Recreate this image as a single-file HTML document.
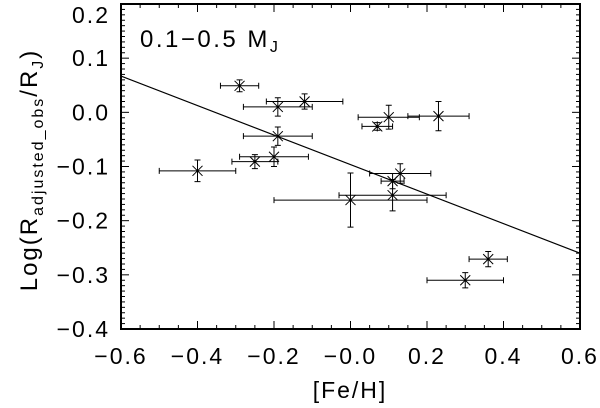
<!DOCTYPE html>
<html><head><meta charset="utf-8"><style>
html,body{margin:0;padding:0;background:#fff}
svg{display:block}
text{font-family:"Liberation Sans","DejaVu Sans",sans-serif;fill:#000}
</style></head><body>
<svg id="chart" width="600" height="408" viewBox="0 0 600 408" xmlns="http://www.w3.org/2000/svg">
<g id="plot"></g>
<text x="140" y="47" font-size="24" letter-spacing="2.5">0.1−0.5  M<tspan font-size="16" dy="5">J</tspan></text>
<text x="350" y="398" font-size="23" letter-spacing="2" text-anchor="middle">[Fe/H]</text>
<text transform="translate(37,170) rotate(-90)" font-size="24" letter-spacing="2" text-anchor="middle">Log(R<tspan font-size="16" dy="6">adjusted_obs</tspan><tspan dy="-6">/R</tspan><tspan font-size="16" dy="6">J</tspan><tspan dy="-6">)</tspan></text>
</svg>
<script>
const feh   = [-0.29,-0.19,-0.12,-0.19,-0.25,-0.20,-0.40,0.10,0.07,0.23,0.13,0.11,0.11,0.00,0.36,0.30];
const logR  = [0.049,0.010,0.020,-0.044,-0.091,-0.082,-0.108,-0.009,-0.026,-0.007,-0.113,-0.127,-0.153,-0.162,-0.271,-0.310];
const xErr  = [0.05,0.09,0.10,0.09,0.06,0.09,0.10,0.08,0.04,0.08,0.08,0.03,0.14,0.20,0.05,0.10];
const yErr  = [0.011,0.017,0.014,0.017,0.013,0.018,0.02,0.022,0.007,0.027,0.018,0.014,0.029,0.05,0.014,0.014];
const fitX  = [-0.6,0.6];
const fitY  = [0.067,-0.260];
const xTicks = [-0.6,-0.4,-0.2,0.0,0.2,0.4,0.6];
const xTickLabels = ["−0.6","−0.4","−0.2","−0.0","0.2","0.4","0.6"];
const yTicks = [0.2,0.1,0.0,-0.1,-0.2,-0.3,-0.4];
const yTickLabels = ["0.2","0.1","0.0","−0.1","−0.2","−0.3","−0.4"];

const L=121,R=580,T=4,B=329;
const xs=v=>L+(v+0.6)/1.2*(R-L);
const ys=v=>T+(0.2-v)/0.6*(B-T);
const NS="http://www.w3.org/2000/svg";
const g=document.getElementById('plot');
function mk(tag,attrs){const e=document.createElementNS(NS,tag);for(const k in attrs)e.setAttribute(k,attrs[k]);g.appendChild(e);return e;}
function ln(x1,y1,x2,y2,w){return mk('line',{x1,y1,x2,y2,stroke:'#000','stroke-width':w||1});}

const box=mk('rect',{x:L,y:T,width:R-L,height:B-T,fill:'none',stroke:'#000','stroke-width':2});



for(let i=0;i<=24;i++){
  const v=-0.6+i*0.05;
  const major=(i%4===0);
  const x=xs(v),len=major?8:4;
  const t1=ln(x,B,x,B-len);
  const t2=ln(x,T,x,T+len);
}
for(let i=0;i<=60;i++){
  const v=-0.4+i*0.01,y=ys(v),len=(i%10===0)?8:4;
  const t1=ln(L,y,L+len,y);
  const t2=ln(R,y,R-len,y);
}
xTicks.forEach((v,i)=>{
  const t=mk('text',{x:xs(v),y:364,'font-size':23,'letter-spacing':2,'text-anchor':'middle'});
  t.textContent=xTickLabels[i];
  
  
});
yTicks.forEach((v,i)=>{
  let y=ys(v)+8;
  if(i===0) y=23;
  const t=mk('text',{x:110,y:y,'font-size':23,'letter-spacing':2,'text-anchor':'end'});
  t.textContent=yTickLabels[i];
  
  
});

const fit=ln(xs(fitX[0]),ys(fitY[0]),xs(fitX[1]),ys(fitY[1]),1.2);



feh.forEach((v,i)=>{
  const cx=xs(v),cy=ys(logR[i]);
  const x1=xs(v-xErr[i]),x2=xs(v+xErr[i]),y1=ys(logR[i]+yErr[i]),y2=ys(logR[i]-yErr[i]);
  const p=mk('path',{d:`M${x1},${cy}H${x2}M${x1},${cy-3}V${cy+3}M${x2},${cy-3}V${cy+3}M${cx},${y1}V${y2}M${cx-3},${y1}H${cx+3}M${cx-3},${y2}H${cx+3}M${cx-5},${cy-5}L${cx+5},${cy+5}M${cx-5},${cy+5}L${cx+5},${cy-5}M${cx},${cy-5}V${cy+5}`,stroke:'#000','stroke-width':1,fill:'none'});
  
  
});
</script>
</body></html>
